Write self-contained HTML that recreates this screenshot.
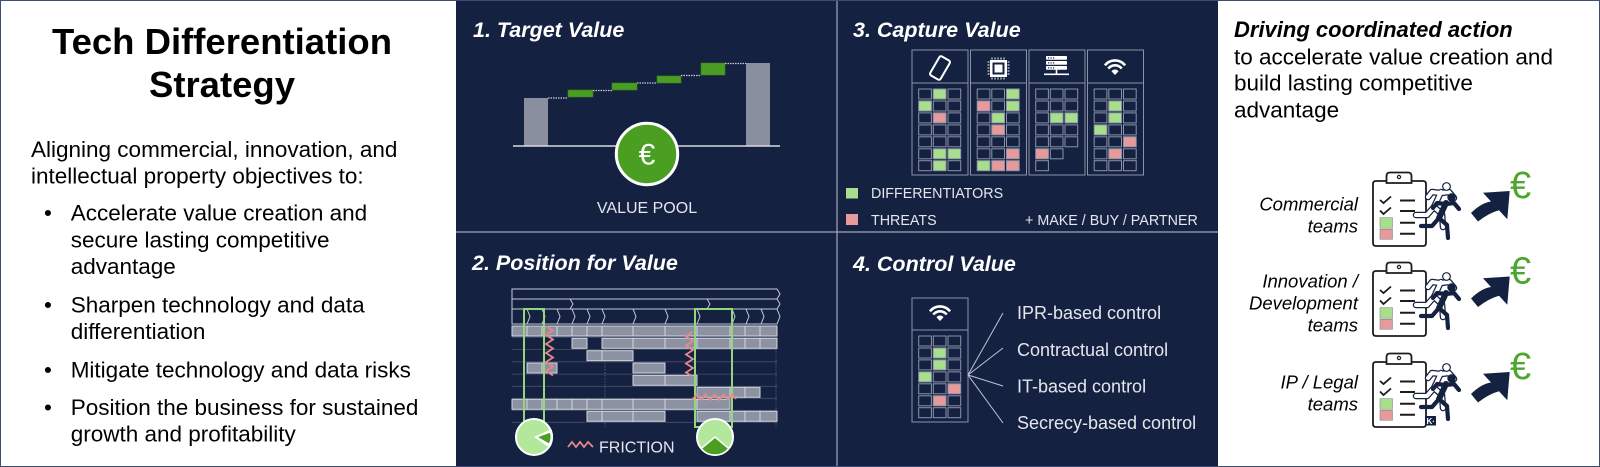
<!DOCTYPE html>
<html><head><meta charset="utf-8">
<style>
html,body{margin:0;padding:0;background:#fff;}
svg{display:block;}
text{font-family:"Liberation Sans",Arial,sans-serif;}
.d{fill:#152141;stroke:#8b93a8;stroke-width:1}
.g{fill:#a8df8d;stroke:#8b93a8;stroke-width:1}
.p{fill:#e69a9b;stroke:#8b93a8;stroke-width:1}
.b{fill:#8d92a2;stroke:#d3d6de;stroke-width:1}
.ttl{fill:#fff;font-weight:bold;font-style:italic;font-size:21.5px}
.lt{fill:#e4e6ec}
.zz{fill:none;stroke:#e8878b;stroke-width:1.8;stroke-linejoin:miter}
</style></head>
<body>
<svg width="1600" height="467" viewBox="0 0 1600 467" xmlns="http://www.w3.org/2000/svg">
<rect x="0" y="0" width="1600" height="467" fill="#fff"/>
<!-- navy block -->
<rect x="456" y="0" width="762" height="467" fill="#152141"/>
<line x1="837" y1="0" x2="837" y2="467" stroke="#a0a7b8" stroke-width="1.2"/>
<line x1="456" y1="232" x2="1218" y2="232" stroke="#a0a7b8" stroke-width="1.2"/>
<rect x="0.5" y="0.5" width="1599" height="466" fill="none" stroke="#3d4d72" stroke-width="1"/>

<!-- LEFT PANEL -->
<g fill="#000">
<text x="222" y="54" text-anchor="middle" font-size="36.5" font-weight="bold">Tech Differentiation</text>
<text x="222" y="97" text-anchor="middle" font-size="36.5" font-weight="bold">Strategy</text>
<g font-size="22.5">
<text x="31" y="157">Aligning commercial, innovation, and</text>
<text x="31" y="183.5">intellectual property objectives to:</text>
<text x="44" y="220.7">•</text>
<text x="70.7" y="220.7">Accelerate value creation and</text>
<text x="70.7" y="247.3">secure lasting competitive</text>
<text x="70.7" y="274">advantage</text>
<text x="44" y="312.3">•</text>
<text x="70.7" y="312.3">Sharpen technology and data</text>
<text x="70.7" y="339">differentiation</text>
<text x="44" y="377.7">•</text>
<text x="70.7" y="377.7">Mitigate technology and data risks</text>
<text x="44" y="415">•</text>
<text x="70.7" y="415">Position the business for sustained</text>
<text x="70.7" y="441.7">growth and profitability</text>
</g>
</g>

<!-- 1. TARGET VALUE -->
<text class="ttl" x="473" y="37">1. Target Value</text>
<rect x="524" y="98" width="24" height="48" fill="#8a8f9f"/>
<rect x="746" y="63" width="24" height="83" fill="#8a8f9f"/>
<g fill="#4a9c22" stroke="#3a8018" stroke-width="0.6">
<rect x="568" y="90" width="25" height="7"/>
<rect x="612" y="83" width="25" height="7"/>
<rect x="657" y="76" width="24" height="7"/>
<rect x="701" y="63" width="24" height="12"/>
</g>
<g stroke="#c8ccd6" stroke-width="1.2" stroke-dasharray="1.5,1">
<line x1="548" y1="98" x2="568" y2="98"/>
<line x1="593" y1="90.5" x2="612" y2="90.5"/>
<line x1="637" y1="83" x2="657" y2="83"/>
<line x1="681" y1="75.5" x2="701" y2="75.5"/>
<line x1="725" y1="63.5" x2="746" y2="63.5"/>
</g>
<line x1="513" y1="146" x2="780" y2="146" stroke="#d8dbe2" stroke-width="1.5"/>
<circle cx="647" cy="154" r="30.7" fill="#4a9e22" stroke="#fff" stroke-width="3"/>
<text x="647" y="164.5" text-anchor="middle" font-size="30" fill="#fff">€</text>
<text x="647" y="213" text-anchor="middle" font-size="16" class="lt">VALUE POOL</text>

<!-- 3. CAPTURE VALUE -->
<text class="ttl" x="853" y="37">3. Capture Value</text>
<g fill="none" stroke="#8b93a8" stroke-width="1">
<rect x="912" y="50" width="56" height="125"/><line x1="912" y1="83" x2="968" y2="83"/>
<rect x="970.5" y="50" width="56" height="125"/><line x1="970.5" y1="83" x2="1026.5" y2="83"/>
<rect x="1029" y="50" width="56" height="125"/><line x1="1029" y1="83" x2="1085" y2="83"/>
<rect x="1087.5" y="50" width="56" height="125"/><line x1="1087.5" y1="83" x2="1143.5" y2="83"/>
</g>
<!-- icons -->
<rect x="934" y="57" width="12" height="22" rx="2" fill="none" stroke="#fff" stroke-width="2" transform="rotate(30 940 68)"/>
<g fill="#fff">
<rect x="990" y="60" width="17" height="17"/>
<rect x="992.5" y="62.5" width="12" height="12" fill="#152141"/>
<rect x="994.5" y="64.5" width="8" height="8"/>
</g>
<g stroke="#fff" stroke-width="1">
<path d="M992,57.5V59.5M995,57.5V59.5M998,57.5V59.5M1001,57.5V59.5M1004,57.5V59.5M992,77.5V79.5M995,77.5V79.5M998,77.5V79.5M1001,77.5V79.5M1004,77.5V79.5M987.5,62H989.5M987.5,65H989.5M987.5,68H989.5M987.5,71H989.5M987.5,74H989.5M1007.5,62H1009.5M1007.5,65H1009.5M1007.5,68H1009.5M1007.5,71H1009.5M1007.5,74H1009.5"/>
</g>
<g fill="#fff">
<rect x="1046" y="56" width="21" height="3.8" rx="0.8"/>
<rect x="1046" y="61" width="21" height="3.8" rx="0.8"/>
<rect x="1046" y="66" width="21" height="3.8" rx="0.8"/>
<rect x="1055.7" y="69.5" width="1.6" height="4.5"/>
<rect x="1044" y="73.5" width="25" height="1.6"/>
</g>
<g fill="#152141">
<rect x="1048" y="57.3" width="1.2" height="1.2"/><rect x="1050.5" y="57.3" width="1.2" height="1.2"/><rect x="1053" y="57.3" width="1.2" height="1.2"/>
<rect x="1048" y="62.3" width="1.2" height="1.2"/><rect x="1050.5" y="62.3" width="1.2" height="1.2"/><rect x="1053" y="62.3" width="1.2" height="1.2"/>
<rect x="1048" y="67.3" width="1.2" height="1.2"/><rect x="1050.5" y="67.3" width="1.2" height="1.2"/><rect x="1053" y="67.3" width="1.2" height="1.2"/>
</g>
<g fill="none" stroke="#fff" stroke-width="2.6">
<path d="M1104.9,65.3 A13,13 0 0 1 1125.1,65.3"/>
<path d="M1108.3,68.6 A8.5,8.5 0 0 1 1121.7,68.6"/>
</g>
<path d="M1115,75 L1111.5,71.2 A4.5,4.5 0 0 1 1118.5,71.2 Z" fill="#fff"/>

<!-- cells col1 -->
<rect class="d" x="918.7" y="89" width="12.7" height="10"/><rect class="g" x="933.3" y="89" width="12.7" height="10"/><rect class="d" x="948" y="89" width="12.7" height="10"/>
<rect class="g" x="918.7" y="101" width="12.7" height="10"/><rect class="d" x="933.3" y="101" width="12.7" height="10"/><rect class="d" x="948" y="101" width="12.7" height="10"/>
<rect class="d" x="918.7" y="112.9" width="12.7" height="10"/><rect class="p" x="933.3" y="112.9" width="12.7" height="10"/><rect class="d" x="948" y="112.9" width="12.7" height="10"/>
<rect class="d" x="918.7" y="124.9" width="12.7" height="10"/><rect class="d" x="933.3" y="124.9" width="12.7" height="10"/><rect class="d" x="948" y="124.9" width="12.7" height="10"/>
<rect class="d" x="918.7" y="136.8" width="12.7" height="10"/><rect class="d" x="933.3" y="136.8" width="12.7" height="10"/><rect class="d" x="948" y="136.8" width="12.7" height="10"/>
<rect class="d" x="918.7" y="148.8" width="12.7" height="10"/><rect class="g" x="933.3" y="148.8" width="12.7" height="10"/><rect class="g" x="948" y="148.8" width="12.7" height="10"/>
<rect class="d" x="918.7" y="160.7" width="12.7" height="10"/><rect class="g" x="933.3" y="160.7" width="12.7" height="10"/><rect class="d" x="948" y="160.7" width="12.7" height="10"/>
<!-- col2 -->
<rect class="d" x="977.2" y="89" width="12.7" height="10"/><rect class="d" x="991.8" y="89" width="12.7" height="10"/><rect class="g" x="1006.5" y="89" width="12.7" height="10"/>
<rect class="p" x="977.2" y="101" width="12.7" height="10"/><rect class="d" x="991.8" y="101" width="12.7" height="10"/><rect class="g" x="1006.5" y="101" width="12.7" height="10"/>
<rect class="d" x="977.2" y="112.9" width="12.7" height="10"/><rect class="g" x="991.8" y="112.9" width="12.7" height="10"/><rect class="d" x="1006.5" y="112.9" width="12.7" height="10"/>
<rect class="d" x="977.2" y="124.9" width="12.7" height="10"/><rect class="p" x="991.8" y="124.9" width="12.7" height="10"/><rect class="d" x="1006.5" y="124.9" width="12.7" height="10"/>
<rect class="d" x="977.2" y="136.8" width="12.7" height="10"/><rect class="d" x="991.8" y="136.8" width="12.7" height="10"/><rect class="d" x="1006.5" y="136.8" width="12.7" height="10"/>
<rect class="d" x="977.2" y="148.8" width="12.7" height="10"/><rect class="d" x="991.8" y="148.8" width="12.7" height="10"/><rect class="p" x="1006.5" y="148.8" width="12.7" height="10"/>
<rect class="g" x="977.2" y="160.7" width="12.7" height="10"/><rect class="p" x="991.8" y="160.7" width="12.7" height="10"/><rect class="p" x="1006.5" y="160.7" width="12.7" height="10"/>
<!-- col3 -->
<rect class="d" x="1035.7" y="89" width="12.7" height="10"/><rect class="d" x="1050.3" y="89" width="12.7" height="10"/><rect class="d" x="1065" y="89" width="12.7" height="10"/>
<rect class="d" x="1035.7" y="101" width="12.7" height="10"/><rect class="d" x="1050.3" y="101" width="12.7" height="10"/><rect class="d" x="1065" y="101" width="12.7" height="10"/>
<rect class="d" x="1035.7" y="112.9" width="12.7" height="10"/><rect class="g" x="1050.3" y="112.9" width="12.7" height="10"/><rect class="g" x="1065" y="112.9" width="12.7" height="10"/>
<rect class="d" x="1035.7" y="124.9" width="12.7" height="10"/><rect class="d" x="1050.3" y="124.9" width="12.7" height="10"/><rect class="d" x="1065" y="124.9" width="12.7" height="10"/>
<rect class="d" x="1035.7" y="136.8" width="12.7" height="10"/><rect class="d" x="1050.3" y="136.8" width="12.7" height="10"/><rect class="d" x="1065" y="136.8" width="12.7" height="10"/>
<rect class="p" x="1035.7" y="148.8" width="12.7" height="10"/><rect class="d" x="1050.3" y="148.8" width="12.7" height="10"/>
<rect class="d" x="1035.7" y="160.7" width="12.7" height="10"/>
<!-- col4 -->
<rect class="d" x="1094.2" y="89" width="12.7" height="10"/><rect class="d" x="1108.8" y="89" width="12.7" height="10"/><rect class="d" x="1123.5" y="89" width="12.7" height="10"/>
<rect class="d" x="1094.2" y="101" width="12.7" height="10"/><rect class="g" x="1108.8" y="101" width="12.7" height="10"/><rect class="d" x="1123.5" y="101" width="12.7" height="10"/>
<rect class="d" x="1094.2" y="112.9" width="12.7" height="10"/><rect class="g" x="1108.8" y="112.9" width="12.7" height="10"/><rect class="d" x="1123.5" y="112.9" width="12.7" height="10"/>
<rect class="g" x="1094.2" y="124.9" width="12.7" height="10"/><rect class="d" x="1108.8" y="124.9" width="12.7" height="10"/><rect class="d" x="1123.5" y="124.9" width="12.7" height="10"/>
<rect class="d" x="1094.2" y="136.8" width="12.7" height="10"/><rect class="d" x="1108.8" y="136.8" width="12.7" height="10"/><rect class="p" x="1123.5" y="136.8" width="12.7" height="10"/>
<rect class="d" x="1094.2" y="148.8" width="12.7" height="10"/><rect class="p" x="1108.8" y="148.8" width="12.7" height="10"/><rect class="d" x="1123.5" y="148.8" width="12.7" height="10"/>
<rect class="d" x="1094.2" y="160.7" width="12.7" height="10"/><rect class="d" x="1108.8" y="160.7" width="12.7" height="10"/><rect class="d" x="1123.5" y="160.7" width="12.7" height="10"/>
<!-- legend -->
<rect x="846" y="188" width="12" height="10.5" fill="#a8df8d"/>
<text x="871" y="198" font-size="14.3" class="lt">DIFFERENTIATORS</text>
<rect x="846" y="214" width="12" height="11" fill="#e69a9b"/>
<text x="871" y="225" font-size="14.3" class="lt">THREATS</text>
<text x="1025" y="225" font-size="14.3" class="lt">+ MAKE / BUY / PARTNER</text>

<!-- 2. POSITION FOR VALUE -->
<text class="ttl" x="472" y="270">2. Position for Value</text>
<g fill="none" stroke="#c8ccd6" stroke-width="1">
<path d="M512,289 H777 L780,294 L777,299 H512 Z"/>
<path d="M512,299 H777 L780,304 L777,309 H512 Z"/>
<path d="M570,299 L573,304 L570,309 M707,299 L710,304 L707,309"/>
<path d="M512,309 H777 L780,316.5 L777,324 H512 Z"/>
<path d="M527,309 L530,316.5 L527,324 M542,309 L545,316.5 L542,324 M557,309 L560,316.5 L557,324 M572,309 L575,316.5 L572,324 M587,309 L590,316.5 L587,324 M602,309 L605,316.5 L602,324 M633,309 L636,316.5 L633,324 M665,309 L668,316.5 L665,324 M697,309 L700,316.5 L697,324 M732,309 L735,316.5 L732,324 M746,309 L749,316.5 L746,324 M761,309 L764,316.5 L761,324"/>
</g>
<g stroke="#46516d" stroke-width="0.8">
<line x1="512" y1="337.2" x2="777" y2="337.2"/>
<line x1="512" y1="349.5" x2="777" y2="349.5"/>
<line x1="512" y1="361.8" x2="777" y2="361.8"/>
<line x1="512" y1="374.1" x2="777" y2="374.1"/>
<line x1="512" y1="386.3" x2="777" y2="386.3"/>
<line x1="512" y1="398.3" x2="777" y2="398.3"/>
<line x1="512" y1="410.3" x2="777" y2="410.3"/>
<line x1="512" y1="422.3" x2="777" y2="422.3"/>
</g>
<g stroke="#5d6882" stroke-width="0.8" stroke-dasharray="1.5,1.5">
<line x1="605" y1="324" x2="605" y2="427"/>
<line x1="776" y1="324" x2="776" y2="427"/>
</g>
<!-- bars -->
<g>
<rect class="b" x="512" y="326" width="15" height="10"/><rect class="b" x="527" y="326" width="15" height="10"/><rect class="b" x="542" y="326" width="15" height="10"/><rect class="b" x="557" y="326" width="15" height="10"/><rect class="b" x="572" y="326" width="15" height="10"/><rect class="b" x="587" y="326" width="15" height="10"/><rect class="b" x="602" y="326" width="31" height="10"/><rect class="b" x="633" y="326" width="32" height="10"/><rect class="b" x="665" y="326" width="32" height="10"/><rect class="b" x="697" y="326" width="33" height="10"/><rect class="b" x="730" y="326" width="15" height="10"/><rect class="b" x="745" y="326" width="15" height="10"/><rect class="b" x="760" y="326" width="17" height="10"/>
<rect class="b" x="572" y="338.3" width="15" height="10"/><rect class="b" x="602" y="338.3" width="31" height="10"/><rect class="b" x="633" y="338.3" width="32" height="10"/><rect class="b" x="665" y="338.3" width="32" height="10"/><rect class="b" x="697" y="338.3" width="33" height="10"/><rect class="b" x="730" y="338.3" width="15" height="10"/><rect class="b" x="745" y="338.3" width="15" height="10"/><rect class="b" x="760" y="338.3" width="17" height="10"/>
<rect class="b" x="587" y="350.7" width="15" height="10"/><rect class="b" x="602" y="350.7" width="31" height="10"/>
<rect class="b" x="527" y="363" width="15" height="10"/><rect class="b" x="542" y="363" width="15" height="10"/><rect class="b" x="633" y="363" width="32" height="10"/>
<rect class="b" x="633" y="375.3" width="32" height="10"/><rect class="b" x="665" y="375.3" width="32" height="10"/>
<rect class="b" x="697" y="387.3" width="33" height="10"/><rect class="b" x="730" y="387.3" width="15" height="10"/><rect class="b" x="745" y="387.3" width="15" height="10"/>
<rect class="b" x="512" y="399.3" width="15" height="10"/><rect class="b" x="527" y="399.3" width="15" height="10"/><rect class="b" x="542" y="399.3" width="15" height="10"/><rect class="b" x="557" y="399.3" width="15" height="10"/><rect class="b" x="572" y="399.3" width="15" height="10"/><rect class="b" x="587" y="399.3" width="15" height="10"/><rect class="b" x="602" y="399.3" width="31" height="10"/><rect class="b" x="633" y="399.3" width="32" height="10"/><rect class="b" x="665" y="399.3" width="32" height="10"/><rect class="b" x="697" y="399.3" width="33" height="10"/>
<rect class="b" x="587" y="411.3" width="15" height="10"/><rect class="b" x="602" y="411.3" width="31" height="10"/><rect class="b" x="633" y="411.3" width="32" height="10"/><rect class="b" x="697" y="411.3" width="33" height="10"/><rect class="b" x="730" y="411.3" width="15" height="10"/><rect class="b" x="745" y="411.3" width="15" height="10"/><rect class="b" x="760" y="411.3" width="17" height="10"/>
</g>
<!-- green frames -->
<rect x="524" y="309" width="20" height="113" fill="none" stroke="#95d67a" stroke-width="2"/>
<rect x="695" y="309" width="37" height="118" fill="none" stroke="#95d67a" stroke-width="2"/>
<!-- friction zigzags -->
<path class="zz" d="M546,326 L553,330.5 L546,335 L553,339.5 L546,344 L553,348.5 L546,353 L553,357.5 L546,362 L553,366.5 L546,371 L553,375.5"/>
<path class="zz" d="M692,332 L686,336.5 L693,341 L686,345.5 L693,350 L686,354.5 L693,359 L686,363.5 L693,368 L686,372.5 L692,376"/>
<path class="zz" d="M692,400 L696.5,394.5 L701,400 L705.5,394.5 L710,400 L714.5,394.5 L719,400 L723.5,394.5 L728,400 L732.5,394.5 L736,399"/>
<path class="zz" d="M568,447 L572,442 L576,447 L580,442 L584,447 L588,442 L593,447"/>
<text x="599" y="452.3" font-size="16" class="lt">FRICTION</text>
<!-- pies -->
<circle cx="534" cy="437" r="18" fill="#b3e79c" stroke="#fff" stroke-width="2"/>
<path d="M534,437 L551.2,429 A19,19 0 0 1 549.6,447.9 Z" fill="#fff"/>
<path d="M537,437 L550.2,432.2 A14,14 0 0 1 549.1,444 Z" fill="#4a9e22" stroke="#fff" stroke-width="1"/>
<circle cx="715" cy="437" r="18" fill="#b3e79c" stroke="#fff" stroke-width="2"/>
<path d="M715,437 L728.8,448.6 A18,18 0 0 1 701.2,448.6 Z" fill="#4a9e22" stroke="#fff" stroke-width="1.5"/>

<!-- 4. CONTROL VALUE -->
<text class="ttl" x="853" y="271">4. Control Value</text>
<g fill="none" stroke="#8b93a8" stroke-width="1">
<rect x="912" y="298" width="56" height="124"/><line x1="912" y1="330" x2="968" y2="330"/>
</g>
<g fill="none" stroke="#fff" stroke-width="2.6">
<path d="M929.9,311.3 A13,13 0 0 1 950.1,311.3"/>
<path d="M933.3,314.6 A8.5,8.5 0 0 1 946.7,314.6"/>
</g>
<path d="M940,321 L936.5,317.2 A4.5,4.5 0 0 1 943.5,317.2 Z" fill="#fff"/>
<rect class="d" x="918.7" y="336" width="12.7" height="10"/><rect class="d" x="933.3" y="336" width="12.7" height="10"/><rect class="d" x="948" y="336" width="12.7" height="10"/>
<rect class="d" x="918.7" y="348" width="12.7" height="10"/><rect class="g" x="933.3" y="348" width="12.7" height="10"/><rect class="d" x="948" y="348" width="12.7" height="10"/>
<rect class="d" x="918.7" y="359.9" width="12.7" height="10"/><rect class="g" x="933.3" y="359.9" width="12.7" height="10"/><rect class="d" x="948" y="359.9" width="12.7" height="10"/>
<rect class="g" x="918.7" y="371.9" width="12.7" height="10"/><rect class="d" x="933.3" y="371.9" width="12.7" height="10"/><rect class="d" x="948" y="371.9" width="12.7" height="10"/>
<rect class="d" x="918.7" y="383.8" width="12.7" height="10"/><rect class="d" x="933.3" y="383.8" width="12.7" height="10"/><rect class="p" x="948" y="383.8" width="12.7" height="10"/>
<rect class="d" x="918.7" y="395.8" width="12.7" height="10"/><rect class="p" x="933.3" y="395.8" width="12.7" height="10"/><rect class="d" x="948" y="395.8" width="12.7" height="10"/>
<rect class="d" x="918.7" y="407.7" width="12.7" height="10"/><rect class="d" x="933.3" y="407.7" width="12.7" height="10"/><rect class="d" x="948" y="407.7" width="12.7" height="10"/>
<g stroke="#c0c5d0" stroke-width="1">
<line x1="968" y1="375" x2="1003" y2="313"/>
<line x1="968" y1="375" x2="1003" y2="348"/>
<line x1="968" y1="375" x2="1003" y2="386"/>
<line x1="968" y1="375" x2="1003" y2="423"/>
</g>
<g font-size="18" class="lt">
<text x="1017" y="319">IPR-based control</text>
<text x="1017" y="356">Contractual control</text>
<text x="1017" y="392.5">IT-based control</text>
<text x="1017" y="429">Secrecy-based control</text>
</g>

<!-- RIGHT PANEL -->
<text x="1234" y="37" font-size="22" font-weight="bold" font-style="italic" fill="#000">Driving coordinated action</text>
<g font-size="22.5" fill="#000">
<text x="1234" y="64.3">to accelerate value creation and</text>
<text x="1234" y="90.7">build lasting competitive</text>
<text x="1234" y="117.3">advantage</text>
</g>
<g font-size="18.5" font-style="italic" fill="#000" text-anchor="end">
<text x="1358" y="210.7">Commercial</text>
<text x="1358" y="232.7">teams</text>
<text x="1358" y="287.3">Innovation /</text>
<text x="1358" y="309.3">Development</text>
<text x="1358" y="331.7">teams</text>
<text x="1358" y="388.3">IP / Legal</text>
<text x="1358" y="410.7">teams</text>
</g>

<!-- team icon row 1 -->
<g id="teamicon">
<path d="M1388,181 H1376 Q1373,181 1373,184 V243 Q1373,246 1376,246 H1423 Q1426,246 1426,243 V184 Q1426,181 1423,181 H1411" fill="#fff" stroke="#1c1c1c" stroke-width="1.8"/>
<path d="M1386.5,183 V176 Q1386.5,172.5 1390,172.5 H1408 Q1411.5,172.5 1411.5,176 V183 Z" fill="#fff" stroke="#1c1c1c" stroke-width="1.8"/>
<circle cx="1399" cy="177" r="1.6" fill="none" stroke="#1c1c1c" stroke-width="1.2"/>
<path d="M1380,200 L1383.5,203 L1391,196.5 M1380,210.5 L1383.5,214 L1391,207.5" fill="none" stroke="#1c1c1c" stroke-width="1.8"/>
<path d="M1400,200.5 H1415 M1400,211 H1415 M1400,222.7 H1415 M1400,233.7 H1415" stroke="#1c1c1c" stroke-width="2"/>
<rect x="1380" y="217.7" width="12.5" height="10.5" fill="#a8df8d" stroke="#888" stroke-width="0.6"/>
<rect x="1380" y="229.3" width="12.5" height="10" fill="#e69a9b" stroke="#888" stroke-width="0.6"/>
<!-- ghost runner -->
<g transform="translate(-5,-11)" fill="none" stroke-linecap="round" stroke-linejoin="round">
<path d="M1446,203 L1439,218 M1446,204 L1454,203 L1459,209 M1445,204 L1437,203 L1433,208 M1439,218 L1447,225 L1448,238 M1439,218 L1432,226 L1421,226" stroke="#152141" stroke-width="6.5"/>
<path d="M1446,203 L1439,218 M1446,204 L1454,203 L1459,209 M1445,204 L1437,203 L1433,208 M1439,218 L1447,225 L1448,238 M1439,218 L1432,226 L1421,226" stroke="#fff" stroke-width="4"/>
<circle cx="1451.5" cy="197.5" r="3.8" fill="#fff" stroke="#152141" stroke-width="1.2"/>
</g>
<g fill="none" stroke="#152141" stroke-linecap="round" stroke-linejoin="round">
<path d="M1446,203 L1439,218" stroke-width="6"/>
<path d="M1446,204 L1454,203 L1459,209 M1445,204 L1437,203 L1433,208 M1439,218 L1447,225 L1448,238 M1439,218 L1432,226 L1421,226" stroke-width="4.2"/>
</g>
<circle cx="1451.5" cy="197.5" r="4.2" fill="#152141"/>
</g>
<g transform="translate(0,90)">
<path d="M1388,181 H1376 Q1373,181 1373,184 V243 Q1373,246 1376,246 H1423 Q1426,246 1426,243 V184 Q1426,181 1423,181 H1411" fill="#fff" stroke="#1c1c1c" stroke-width="1.8"/>
<path d="M1386.5,183 V176 Q1386.5,172.5 1390,172.5 H1408 Q1411.5,172.5 1411.5,176 V183 Z" fill="#fff" stroke="#1c1c1c" stroke-width="1.8"/>
<circle cx="1399" cy="177" r="1.6" fill="none" stroke="#1c1c1c" stroke-width="1.2"/>
<path d="M1380,200 L1383.5,203 L1391,196.5 M1380,210.5 L1383.5,214 L1391,207.5" fill="none" stroke="#1c1c1c" stroke-width="1.8"/>
<path d="M1400,200.5 H1415 M1400,211 H1415 M1400,222.7 H1415 M1400,233.7 H1415" stroke="#1c1c1c" stroke-width="2"/>
<rect x="1380" y="217.7" width="12.5" height="10.5" fill="#a8df8d" stroke="#888" stroke-width="0.6"/>
<rect x="1380" y="229.3" width="12.5" height="10" fill="#e69a9b" stroke="#888" stroke-width="0.6"/>
<g transform="translate(-5,-11)" fill="none" stroke-linecap="round" stroke-linejoin="round">
<path d="M1446,203 L1439,218 M1446,204 L1454,203 L1459,209 M1445,204 L1437,203 L1433,208 M1439,218 L1447,225 L1448,238 M1439,218 L1432,226 L1421,226" stroke="#152141" stroke-width="6.5"/>
<path d="M1446,203 L1439,218 M1446,204 L1454,203 L1459,209 M1445,204 L1437,203 L1433,208 M1439,218 L1447,225 L1448,238 M1439,218 L1432,226 L1421,226" stroke="#fff" stroke-width="4"/>
<circle cx="1451.5" cy="197.5" r="3.8" fill="#fff" stroke="#152141" stroke-width="1.2"/>
</g>
<g fill="none" stroke="#152141" stroke-linecap="round" stroke-linejoin="round">
<path d="M1446,203 L1439,218" stroke-width="6"/>
<path d="M1446,204 L1454,203 L1459,209 M1445,204 L1437,203 L1433,208 M1439,218 L1447,225 L1448,238 M1439,218 L1432,226 L1421,226" stroke-width="4.2"/>
</g>
<circle cx="1451.5" cy="197.5" r="4.2" fill="#152141"/>
</g>
<g transform="translate(0,181)">
<path d="M1388,181 H1376 Q1373,181 1373,184 V243 Q1373,246 1376,246 H1423 Q1426,246 1426,243 V184 Q1426,181 1423,181 H1411" fill="#fff" stroke="#1c1c1c" stroke-width="1.8"/>
<path d="M1386.5,183 V176 Q1386.5,172.5 1390,172.5 H1408 Q1411.5,172.5 1411.5,176 V183 Z" fill="#fff" stroke="#1c1c1c" stroke-width="1.8"/>
<circle cx="1399" cy="177" r="1.6" fill="none" stroke="#1c1c1c" stroke-width="1.2"/>
<path d="M1380,200 L1383.5,203 L1391,196.5 M1380,210.5 L1383.5,214 L1391,207.5" fill="none" stroke="#1c1c1c" stroke-width="1.8"/>
<path d="M1400,200.5 H1415 M1400,211 H1415 M1400,222.7 H1415 M1400,233.7 H1415" stroke="#1c1c1c" stroke-width="2"/>
<rect x="1380" y="217.7" width="12.5" height="10.5" fill="#a8df8d" stroke="#888" stroke-width="0.6"/>
<rect x="1380" y="229.3" width="12.5" height="10" fill="#e69a9b" stroke="#888" stroke-width="0.6"/>
<g transform="translate(-5,-11)" fill="none" stroke-linecap="round" stroke-linejoin="round">
<path d="M1446,203 L1439,218 M1446,204 L1454,203 L1459,209 M1445,204 L1437,203 L1433,208 M1439,218 L1447,225 L1448,238 M1439,218 L1432,226 L1421,226" stroke="#152141" stroke-width="6.5"/>
<path d="M1446,203 L1439,218 M1446,204 L1454,203 L1459,209 M1445,204 L1437,203 L1433,208 M1439,218 L1447,225 L1448,238 M1439,218 L1432,226 L1421,226" stroke="#fff" stroke-width="4"/>
<circle cx="1451.5" cy="197.5" r="3.8" fill="#fff" stroke="#152141" stroke-width="1.2"/>
</g>
<g fill="none" stroke="#152141" stroke-linecap="round" stroke-linejoin="round">
<path d="M1446,203 L1439,218" stroke-width="6"/>
<path d="M1446,204 L1454,203 L1459,209 M1445,204 L1437,203 L1433,208 M1439,218 L1447,225 L1448,238 M1439,218 L1432,226 L1421,226" stroke-width="4.2"/>
</g>
<circle cx="1451.5" cy="197.5" r="4.2" fill="#152141"/>
<rect x="1425" y="235" width="11" height="9.5" fill="#152141"/>
<text x="1426.5" y="243" font-size="8" font-weight="bold" fill="#fff">K·</text>
</g>

<!-- arrows + euros -->
<path d="M1483,192.7 L1509.7,191 L1507.3,219.3 L1499,210.3 Q1489,213 1478,221.5 L1471,213 Q1481,203 1491,201.5 Z" fill="#152141"/>
<text x="1510" y="198" font-size="38" fill="#4ea62f">€</text>
<g transform="translate(0,85.5)">
<path d="M1483,192.7 L1509.7,191 L1507.3,219.3 L1499,210.3 Q1489,213 1478,221.5 L1471,213 Q1481,203 1491,201.5 Z" fill="#152141"/>
<text x="1510" y="198" font-size="38" fill="#4ea62f">€</text>
</g>
<g transform="translate(0,181)">
<path d="M1483,192.7 L1509.7,191 L1507.3,219.3 L1499,210.3 Q1489,213 1478,221.5 L1471,213 Q1481,203 1491,201.5 Z" fill="#152141"/>
<text x="1510" y="198" font-size="38" fill="#4ea62f">€</text>
</g>
</svg>
</body></html>
